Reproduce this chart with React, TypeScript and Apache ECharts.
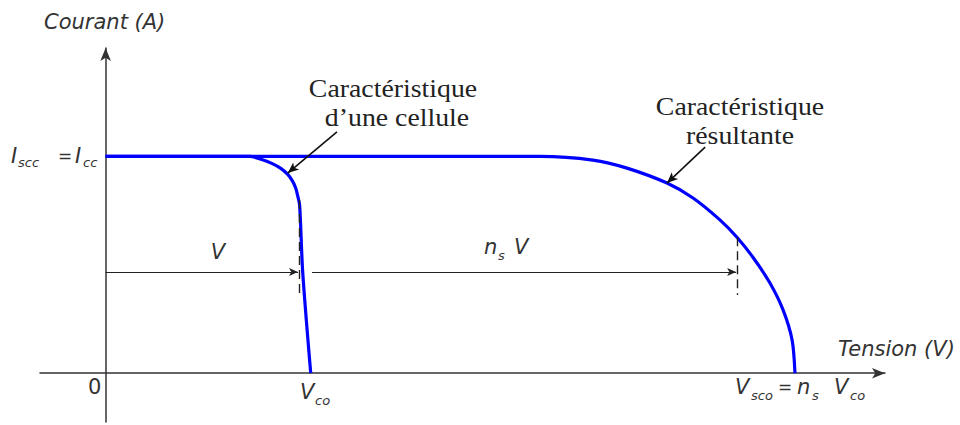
import React, { useEffect, useRef } from "react";
import * as echarts from "echarts";

// Cell I-V characteristic (V in units of Vco, I in units of Isc)
const cellV = [0, 0.702, 0.761, 0.81, 0.854, 0.888, 0.912, 0.927, 0.937, 0.946, 0.961, 1.0];
const cellI = [1, 1, 0.986, 0.968, 0.945, 0.917, 0.885, 0.853, 0.816, 0.774, 0.465, 0];
// Resulting characteristic of ns cells in series
const resV = [0, 2.118, 2.376, 2.542, 2.737, 2.864, 2.995, 3.078, 3.156, 3.239, 3.303, 3.347, 3.361];
const resI = [1, 1, 0.983, 0.946, 0.877, 0.808, 0.707, 0.627, 0.535, 0.416, 0.292, 0.153, 0];

const xRange = [-0.32, 3.8];
const yRange = [-0.225, 1.5];

// dimension arrows (V and ns V) and dashed markers
const dimY = 0.467;
const dimArrows = [
  [[0, dimY], [0.938, dimY]],
  [[1.006, dimY], [3.074, dimY]],
];
const dashedMarks = [
  [[0.943, 0.799], [0.943, 0.361]],
  [[3.078, 0.627], [3.078, 0.361]],
];
// annotation arrows: tail -> tip on the curve
const annotArrows = [
  [[1.128, 1.113], [0.888, 0.923]],
  [[2.923, 1.043], [2.737, 0.877]],
];

const BLUE = "#0000ff";
const INK = "#222222";
const SANS = "'DejaVu Sans', 'Open Sans', sans-serif";
const SERIF = "'Liberation Serif', 'DejaVu Serif', serif";

function txt(
  text: string,
  x: number,
  y: number,
  size: number,
  opts: { italic?: boolean; serif?: boolean; align?: string; fill?: string; sx?: number } = {}
) {
  const align = opts.align || "left";
  return {
    type: "text",
    x,
    y,
    scaleX: opts.sx || 1,
    silent: true,
    style: {
      text,
      fontSize: size,
      fontStyle: opts.italic ? "italic" : "normal",
      fontFamily: opts.serif ? SERIF : SANS,
      fill: opts.fill || (opts.serif ? INK : "#333333"),
      align,
      verticalAlign: "middle",
      textAlign: align,
      textVerticalAlign: "middle",
    },
  };
}

const pairs = (arr: number[][][]) =>
  arr.map((p) => [{ coord: p[0] }, { coord: p[1] }]);

export default function App() {
  const ref = useRef<HTMLDivElement>(null);
  useEffect(() => {
    const chart = echarts.init(ref.current!, null, { renderer: "svg" });
    const option = {
      animation: false,
      backgroundColor: "#ffffff",
      grid: { left: 40, right: 75, top: 48, bottom: 3, containLabel: false },
      xAxis: {
        type: "value",
        min: xRange[0],
        max: xRange[1],
        axisLine: {
          show: true,
          onZero: true,
          symbol: ["none", "arrow"],
          symbolSize: [8, 13],
          lineStyle: { color: "#333", width: 1.5 },
        },
        axisTick: { show: false },
        axisLabel: { show: false },
        splitLine: { show: false },
      },
      yAxis: {
        type: "value",
        min: yRange[0],
        max: yRange[1],
        axisLine: {
          show: true,
          onZero: true,
          symbol: ["none", "arrow"],
          symbolSize: [8, 13],
          lineStyle: { color: "#333", width: 1.5 },
        },
        axisTick: { show: false },
        axisLabel: { show: false },
        splitLine: { show: false },
      },
      series: [
        {
          type: "line",
          data: resV.map((v, i) => [v, resI[i]]),
          showSymbol: false,
          smooth: 0.3,
          lineStyle: { color: BLUE, width: 3.2 },
          silent: true,
        },
        {
          type: "line",
          data: cellV.map((v, i) => [v, cellI[i]]),
          showSymbol: false,
          smooth: 0.3,
          lineStyle: { color: BLUE, width: 3.2 },
          silent: true,
        },
        {
          type: "line",
          data: [[0, 1]],
          symbol: "none",
          lineStyle: { width: 0 },
          silent: true,
          markLine: {
            silent: true,
            symbol: ["none", "arrow"],
            symbolSize: [6, 9],
            label: { show: false },
            lineStyle: { color: INK, width: 1.2, type: "solid" },
            data: pairs(dimArrows),
          },
        },
        {
          type: "line",
          data: [[0, 1]],
          symbol: "none",
          lineStyle: { width: 0 },
          silent: true,
          markLine: {
            silent: true,
            symbol: ["none", "none"],
            label: { show: false },
            lineStyle: { color: INK, width: 1.4, type: [9, 5] },
            data: pairs(dashedMarks),
          },
        },
        {
          type: "line",
          data: [[0, 1]],
          symbol: "none",
          lineStyle: { width: 0 },
          silent: true,
          markLine: {
            silent: true,
            symbol: ["none", "arrow"],
            symbolSize: [7, 11],
            label: { show: false },
            lineStyle: { color: "#111", width: 1.6, type: "solid" },
            data: pairs(annotArrows),
          },
        },
      ],
      graphic: [
        txt("Courant (A)", 44, 22, 21, { italic: true }),
        txt("Tension (V)", 838, 349, 21, { italic: true }),
        txt("0", 88, 387, 21),
        // Iscc = Icc
        txt("I", 11, 156, 21, { italic: true }),
        txt("scc", 18, 162, 13, { italic: true }),
        txt("=", 58, 156, 17),
        txt("I", 75, 156, 21, { italic: true }),
        txt("cc", 83, 162, 13, { italic: true }),
        // V
        txt("V", 218, 252, 21, { italic: true, align: "center" }),
        // ns V
        txt("n", 484, 247, 21, { italic: true }),
        txt("s", 498, 255, 13, { italic: true }),
        txt("V", 514, 247, 21, { italic: true }),
        // Vco
        txt("V", 300, 392, 21, { italic: true }),
        txt("co", 315, 400, 13, { italic: true }),
        // Vsco = ns Vco
        txt("V", 735, 387, 21, { italic: true }),
        txt("sco", 751, 395, 13, { italic: true }),
        txt("=", 778, 387, 17),
        txt("n", 797, 387, 21, { italic: true }),
        txt("s", 812, 395, 13, { italic: true }),
        txt("V", 834, 387, 21, { italic: true }),
        txt("co", 850, 395, 13, { italic: true }),
        // annotations
        txt("Caractéristique", 393, 88, 26, { serif: true, align: "center", sx: 1.07 }),
        txt("d’une cellule", 397, 117, 26, { serif: true, align: "center", sx: 1.07 }),
        txt("Caractéristique", 740, 106, 26, { serif: true, align: "center", sx: 1.07 }),
        txt("résultante", 740, 135, 26, { serif: true, align: "center", sx: 1.07 }),
      ],
    };
    chart.setOption(option as any);
    return () => chart.dispose();
  }, []);
  return (
    <div
      ref={ref}
      style={{ position: "fixed", left: 0, top: 0, width: 960, height: 425 }}
    />
  );
}
